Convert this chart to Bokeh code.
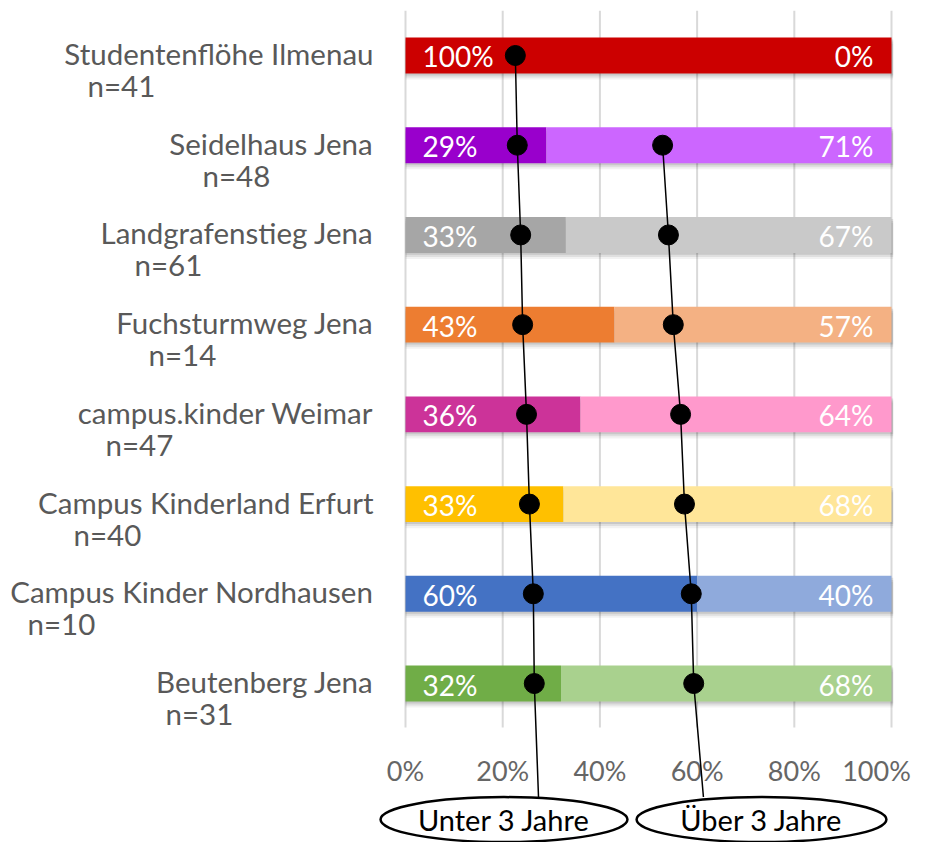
from bokeh.plotting import figure
from bokeh.models import ColumnDataSource, Range1d
from bokeh.embed import file_html
from bokeh.resources import INLINE
from bokeh.core.properties import value

# ---------------- data ----------------
sites = ["Studentenflöhe Ilmenau", "Seidelhaus Jena", "Landgrafenstieg Jena",
         "Fuchsturmweg Jena", "campus.kinder Weimar", "Campus Kinderland Erfurt",
         "Campus Kinder Nordhausen", "Beutenberg Jena"]
counts = ["n=41", "n=48", "n=61", "n=14", "n=47", "n=40", "n=10", "n=31"]
under3 = [100, 29, 33, 43, 36, 32.5, 60, 32]
over3 = [0, 71, 67, 57, 64, 67.5, 40, 68]
under3_labels = ["100%", "29%", "33%", "43%", "36%", "33%", "60%", "32%"]
over3_labels = ["0%", "71%", "67%", "57%", "64%", "68%", "40%", "68%"]
under3_marker = [22.6, 23.0, 23.7, 24.1, 24.9, 25.5, 26.3, 26.5]
over3_marker = [52.9, 54.1, 55.1, 56.6, 57.4, 58.8, 59.3]   # from Seidelhaus downwards
x_ticks = [0, 20, 40, 60, 80, 100]
x_tick_labels = ["0%", "20%", "40%", "60%", "80%", "100%"]
callouts = ["Unter 3 Jahre", "Über 3 Jahre"]

# ---------------- style ----------------
dark_colors = ["#CC0000", "#9900CC", "#A6A6A6", "#ED7D31", "#CC3399", "#FFC000", "#4472C4", "#70AD47"]
light_colors = ["#CC0000", "#CC66FF", "#C9C9C9", "#F4B183", "#FF99CC", "#FFE699", "#8FAADC", "#A9D18E"]
count_offsets = [-318, -203, -271, -257, -300, -332, -378, -240]
tick_offsets = [0, 0, 0, 0, 0, -15]
FONT = value("Lato")
LABEL_GRAY = "#595959"

n = len(sites)
rows = [n - 1 - i for i in range(n)]
left_over = under3
right_over = [a + b for a, b in zip(under3, over3)]

W, H = 914, 842
p = figure(width=W, height=H, output_backend="svg", toolbar_location=None,
           x_range=Range1d(-83.33, 104.73), y_range=Range1d(-1.772, 7.613),
           min_border=0)
p.axis.visible = False
p.grid.visible = False
p.outline_line_color = None
p.background_fill_color = "white"
p.border_fill_color = "white"

# gridlines
p.segment(x0=x_ticks, x1=x_ticks, y0=[-0.49] * len(x_ticks), y1=[7.5] * len(x_ticks),
          line_color="#D9D9D9", line_width=2)

# shadows
for off, a in [(0.022, 0.10), (0.045, 0.08), (0.068, 0.05)]:
    p.hbar(y=[r - off for r in rows], left=[0] * n, right=[r + 0.35 for r in right_over],
           height=0.4, fill_color="black", fill_alpha=a, line_color=None)

src = ColumnDataSource(dict(
    y=rows, under=under3, lo=left_over, ro=right_over,
    dark=dark_colors, light=light_colors,
    ul=under3_labels, ol=over3_labels,
    site=sites, cnt=counts, coff=count_offsets,
    zero=[0] * n, hundred=[100] * n,
))

p.hbar(y="y", left="zero", right="under", height=0.4, fill_color="dark", line_color=None, source=src)
p.hbar(y="y", left="lo", right="ro", height=0.4, fill_color="light", line_color=None, source=src)

# value labels
p.text(x="zero", y="y", text="ul", source=src, x_offset=17, y_offset=1, text_align="left",
       text_baseline="middle", text_color="white", text_font=FONT, text_font_size="28px")
p.text(x="hundred", y="y", text="ol", source=src, x_offset=-18, y_offset=1, text_align="right",
       text_baseline="middle", text_color="white", text_font=FONT, text_font_size="28px")

# category labels
p.text(x="zero", y="y", text="site", source=src, x_offset=-32, y_offset=-2, text_align="right",
       text_baseline="middle", text_color=LABEL_GRAY, text_font=FONT, text_font_size="29.5px")
p.text(x="zero", y="y", text="cnt", source=src, x_offset="coff", y_offset=30, text_align="left",
       text_baseline="middle", text_color=LABEL_GRAY, text_font=FONT, text_font_size="29.5px")

# x tick labels
p.text(x=x_ticks, y=[-0.97] * len(x_ticks), text=x_tick_labels, x_offset=tick_offsets,
       text_align="center", text_baseline="middle", text_color="#666666",
       text_font=FONT, text_font_size="27px")

# callout lines
callout_x = [20.27, 73.25]
callout_y = [-1.516, -1.516]
line_end_x = [27.37, 61.3]
line_end_y = [-1.265, -1.265]
p.line(x=under3_marker + [line_end_x[0]], y=rows + [line_end_y[0]], line_color="black", line_width=1.5)
p.line(x=over3_marker + [line_end_x[1]], y=rows[1:] + [line_end_y[1]], line_color="black", line_width=1.5)

# markers
p.scatter(x=under3_marker, y=rows, size=20, marker="circle", fill_color="black", line_color="black")
p.scatter(x=over3_marker, y=rows[1:], size=20, marker="circle", fill_color="black", line_color="black")

# callout ellipses
p.ellipse(x=callout_x, y=callout_y, width=[50.8, 51.4], height=[0.5, 0.5],
          fill_color="white", line_color="black", line_width=2.5)
p.text(x=callout_x, y=callout_y, text=callouts, text_align="center", text_baseline="middle",
       text_color="black", text_font=FONT, text_font_size="29px")

open("out.html", "w").write(file_html(p, INLINE))
